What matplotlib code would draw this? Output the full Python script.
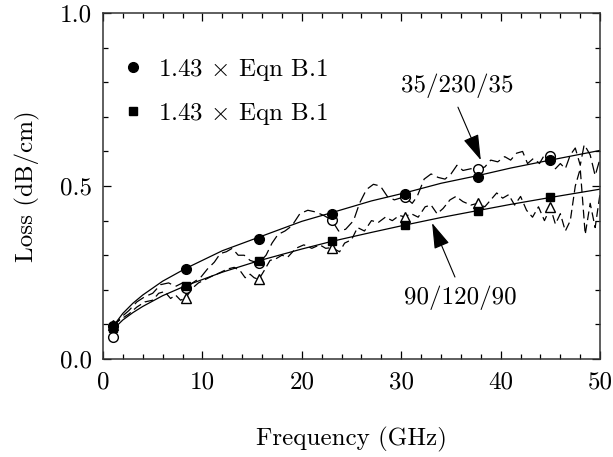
import matplotlib
matplotlib.use("Agg")
import matplotlib.pyplot as plt
from matplotlib.ticker import MultipleLocator

plt.rcParams["font.family"] = "serif"
plt.rcParams["font.serif"] = ["cmr10"]
plt.rcParams["mathtext.fontset"] = "cm"
plt.rcParams["axes.unicode_minus"] = False
plt.rcParams["axes.formatter.use_mathtext"] = True

# Frequencies at which the model and measurement are sampled (GHz)
marker_freq = [1.0, 8.33, 15.67, 23.0, 30.33, 37.67, 45.0]

# 1.43 x Eqn B.1 at the marker frequencies
model_a_pts = [0.094, 0.260, 0.347, 0.419, 0.477, 0.525, 0.575]   # 35/230/35
model_b_pts = [0.089, 0.212, 0.284, 0.340, 0.386, 0.429, 0.467]   # 90/120/90

# measured values at the marker frequencies
meas_a_pts = [0.064, 0.204, 0.277, 0.402, 0.469, 0.549, 0.587]    # open circles
meas_b_pts = [0.098, 0.177, 0.230, 0.320, 0.411, 0.450, 0.438]    # open triangles

# model curves (1.43 x Eqn B.1)
curve_freq = [1.0, 2.0, 3.0, 4.0, 6.0, 8.33, 12.0, 15.67, 20.0, 23.0,
              27.0, 30.33, 34.0, 37.67, 41.0, 45.0, 50.0]
curve_a = [0.094, 0.132, 0.161, 0.185, 0.225, 0.262, 0.313, 0.352, 0.398,
           0.423, 0.457, 0.480, 0.508, 0.530, 0.552, 0.575, 0.603]
curve_b = [0.085, 0.113, 0.134, 0.152, 0.183, 0.212, 0.251, 0.284, 0.318,
           0.340, 0.366, 0.387, 0.409, 0.429, 0.447, 0.467, 0.491]

# measured loss, 35/230/35 line
meas_a_freq = [1.0, 1.8, 2.6, 3.4, 4.2, 5.0, 5.8, 6.6, 7.3, 8.0, 8.33, 9.0,
               9.8, 10.5, 11.2, 11.8, 12.4, 13.0, 13.6, 14.2, 14.8, 15.67,
               16.4, 17.0, 17.6, 18.3, 19.0, 19.8, 20.6, 21.4, 22.2, 23.0,
               23.7, 24.4, 25.2, 25.8, 26.5, 27.2, 27.9, 28.6, 29.3, 30.33,
               31.1, 31.6, 32.3, 33.0, 33.7, 34.4, 35.0, 35.6, 36.2, 37.0,
               37.67, 38.4, 39.0, 39.7, 40.4, 41.0, 41.6, 42.2, 42.7, 43.3,
               43.9, 44.4, 45.0, 45.5, 46.0, 46.5, 47.0, 47.5, 48.0, 48.4,
               49.0, 49.5, 50.0]
meas_a = [0.090, 0.120, 0.140, 0.165, 0.180, 0.190, 0.215, 0.220, 0.210,
          0.220, 0.205, 0.220, 0.235, 0.260, 0.280, 0.305, 0.310, 0.320,
          0.300, 0.300, 0.285, 0.277, 0.300, 0.335, 0.360, 0.370, 0.385,
          0.420, 0.430, 0.425, 0.415, 0.402, 0.370, 0.375, 0.400, 0.450,
          0.490, 0.505, 0.500, 0.470, 0.460, 0.469, 0.450, 0.470, 0.520,
          0.535, 0.525, 0.520, 0.535, 0.560, 0.545, 0.550, 0.549, 0.555,
          0.575, 0.570, 0.585, 0.575, 0.595, 0.600, 0.565, 0.580, 0.565,
          0.590, 0.587, 0.550, 0.565, 0.550, 0.590, 0.610, 0.560, 0.620,
          0.590, 0.530, 0.580]

# measured loss, 90/120/90 line
meas_b_freq = [1.0, 1.8, 2.6, 3.4, 4.2, 5.0, 5.6, 6.2, 6.8, 7.3, 7.8, 8.33,
               9.0, 9.6, 10.3, 11.0, 11.8, 12.5, 13.2, 13.8, 14.3, 14.8,
               15.2, 15.67, 16.2, 16.8, 17.4, 18.0, 18.6, 19.4, 20.2, 21.0,
               21.8, 22.4, 23.0, 23.8, 24.3, 25.0, 25.6, 26.3, 27.0, 27.7,
               28.4, 29.1, 29.8, 30.33, 31.0, 31.7, 32.4, 33.0, 33.6, 34.2,
               34.9, 35.5, 36.2, 37.0, 37.67, 38.4, 39.0, 39.6, 40.2, 40.8,
               41.4, 42.0, 42.6, 43.2, 43.8, 44.4, 45.0, 45.5, 46.0, 46.5,
               47.0, 47.5, 48.0, 48.5, 49.0, 49.5, 50.0]
meas_b = [0.098, 0.115, 0.130, 0.150, 0.165, 0.170, 0.190, 0.195, 0.175,
          0.185, 0.170, 0.177, 0.205, 0.220, 0.230, 0.240, 0.250, 0.260,
          0.265, 0.255, 0.235, 0.245, 0.235, 0.230, 0.255, 0.285, 0.290,
          0.300, 0.295, 0.320, 0.330, 0.320, 0.330, 0.320, 0.322, 0.310,
          0.335, 0.345, 0.380, 0.370, 0.400, 0.395, 0.410, 0.400, 0.415,
          0.411, 0.420, 0.410, 0.440, 0.445, 0.420, 0.435, 0.460, 0.470,
          0.455, 0.445, 0.450, 0.440, 0.460, 0.480, 0.465, 0.475, 0.445,
          0.470, 0.430, 0.410, 0.440, 0.400, 0.438, 0.390, 0.420, 0.370,
          0.400, 0.500, 0.550, 0.360, 0.450, 0.380, 0.480]

legend_label = r"1.43 $\times$ Eqn B.1"
x_ticks = [0, 10, 20, 30, 40, 50]
y_ticks = [0.0, 0.5, 1.0]

FS = 18

fig = plt.figure(figsize=(6.13, 4.57), dpi=100)
ax = fig.add_axes([0.168, 0.2144, 0.811, 0.757])

ax.plot(curve_freq, curve_a, color="black", lw=0.9, zorder=2)
ax.plot(curve_freq, curve_b, color="black", lw=0.9, zorder=2)

ax.plot(meas_a_freq, meas_a, color="black", lw=0.9,
        linestyle=(0, (9, 4)), zorder=2)
ax.plot(meas_b_freq, meas_b, color="black", lw=0.9,
        linestyle=(0, (7, 3.5)), zorder=2)

ax.plot(marker_freq, meas_a_pts, linestyle="none", marker="o", ms=7,
        mfc="white", mec="black", mew=1.0, zorder=3)
ax.plot(marker_freq, meas_b_pts, linestyle="none", marker="^", ms=7,
        mfc="white", mec="black", mew=1.0, zorder=3)
ax.plot(marker_freq, model_a_pts, linestyle="none", marker="o", ms=7,
        color="black", zorder=4, label=legend_label)
ax.plot(marker_freq, model_b_pts, linestyle="none", marker="s", ms=6,
        color="black", zorder=4, label=legend_label)

arrow = dict(arrowstyle="-|>,head_length=1.6,head_width=0.5",
             mutation_scale=10, color="black", lw=0.8, shrinkA=0, shrinkB=0)
ax.annotate("", xy=(38.0, 0.575), xytext=(35.7, 0.728), arrowprops=arrow)
ax.text(35.6, 0.789, "35/230/35", ha="center", va="center", fontsize=FS)
ax.annotate("", xy=(33.1, 0.393), xytext=(35.4, 0.237), arrowprops=arrow)
ax.text(35.9, 0.176, "90/120/90", ha="center", va="center", fontsize=FS)

ax.legend(loc="upper left", bbox_to_anchor=(0.0, 0.923), frameon=False,
          fontsize=FS, handlelength=1.0, handletextpad=0.5,
          labelspacing=0.72, borderpad=0.4, borderaxespad=0.3)

ax.set_xlim(0, 50)
ax.set_ylim(0, 1.0)
ax.set_xticks(x_ticks)
ax.set_yticks(y_ticks)
ax.set_xticklabels([str(v) for v in x_ticks])
ax.set_yticklabels([f"{v:.1f}" for v in y_ticks])
ax.xaxis.set_minor_locator(MultipleLocator(2))
ax.yaxis.set_minor_locator(MultipleLocator(0.1))
ax.tick_params(which="both", direction="in", top=True, right=True,
               labelsize=FS, width=0.9)
ax.tick_params(which="major", length=6)
ax.tick_params(axis="x", which="major", pad=9)
ax.tick_params(axis="y", which="major", pad=8)
ax.tick_params(which="minor", length=3.5)
for s in ax.spines.values():
    s.set_linewidth(1.1)
    s.set_color("#333333")

ax.set_xlabel("Frequency (GHz)", fontsize=FS, labelpad=24)
ax.set_ylabel("Loss (dB/cm)", fontsize=FS, labelpad=14)

fig.savefig("out.png", dpi=100)
